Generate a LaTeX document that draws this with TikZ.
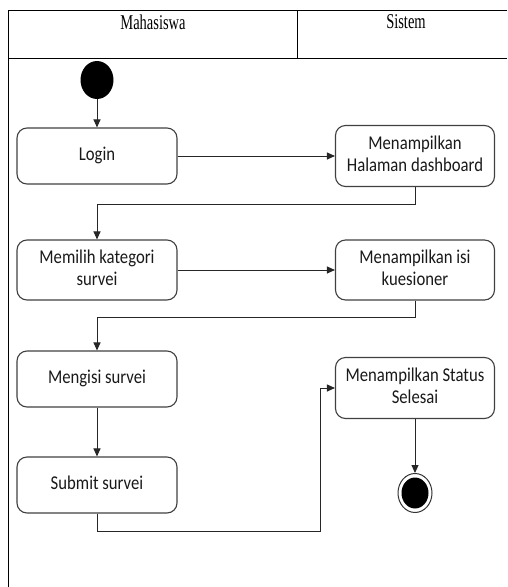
\documentclass[tikz,border=0pt]{standalone}
\usepackage{fontspec}
\setmainfont{Liberation Serif}
\newfontfamily\boxfont{Carlito}
\usetikzlibrary{shapes.geometric,arrows.meta}
% tall, narrow lettering used for the activity labels and lane titles
\newcommand\acttext[1]{\scalebox{1}[1.17]{\begin{tabular}{@{}c@{}}#1\end{tabular}}}
\newcommand\lanetext[1]{\scalebox{1}[1.45]{#1}}
\begin{document}
\begin{tikzpicture}[x=1pt,y=-1pt,
  lane/.style={line width=0.9pt,black},
  act/.style={draw=black!75, line width=1.1pt, rounded corners=10pt,
    minimum width=160pt, minimum height=56pt, inner sep=2pt,
    text=black!90, font=\boxfont\fontsize{16.7}{19.5}\selectfont},
  flow/.style={line width=1pt, black!85, -{Triangle[length=8pt,width=7pt]}},
  lanehead/.style={font=\fontsize{14.5}{17}\selectfont, inner sep=0pt},
  startdot/.style={ellipse, fill=black, minimum width=33pt, minimum height=38pt, inner sep=0pt}]
\useasboundingbox (0,0) rectangle (507,587);

% swimlane frame
\draw[lane] (507,10) -- (8,10) -- (8,587);
\draw[lane] (8,58) -- (507,58);
\draw[lane] (297,10) -- (297,58);
\node[lanehead] (hmhs) at (153,22) {\lanetext{Mahasiswa}};
\node[lanehead] (hsys) at (406,22) {\lanetext{Sistem}};

% activities
\node[startdot] (start) at (97,80) {};
\node[act] (login) at (97,156) {\acttext{Login}};
\node[act, minimum height=61pt, minimum width=159pt] (dash) at (415,156) {\acttext{Menampilkan\\Halaman dashboard}};
\node[act, minimum height=60pt] (pilih) at (97,270) {\acttext{Memilih kategori\\survei}};
\node[act, minimum height=60pt, minimum width=159pt] (isi) at (415,270) {\acttext{Menampilkan isi\\kuesioner}};
\node[act] (mengisi) at (97,379) {\acttext{Mengisi survei}};
\node[act] (submit) at (97,485) {\acttext{Submit survei}};
\node[act, minimum height=61pt, minimum width=159pt] (status) at (415,388) {\acttext{Menampilkan Status\\Selesai}};
\node[ellipse, draw=black!80, line width=1pt, fill=white, minimum width=34pt, minimum height=39pt, inner sep=0pt] (end) at (415,493) {};
\fill[black] (end.center) ellipse (13.5 and 15.5);

% control flow
\coordinate (turn) at (320,531);
\draw[flow] (start) -- (login);
\draw[flow] (login) -- (dash);
\draw[flow] (dash.south) -- ++(0,17) -| (pilih.north);
\draw[flow] (pilih) -- (isi);
\draw[flow] (isi.south) -- ++(0,17) -| (mengisi.north);
\draw[flow] (mengisi) -- (submit);
\draw[flow] (submit.south) |- (turn) |- (status.west);
\draw[flow] (status) -- (end);
\end{tikzpicture}
\end{document}
